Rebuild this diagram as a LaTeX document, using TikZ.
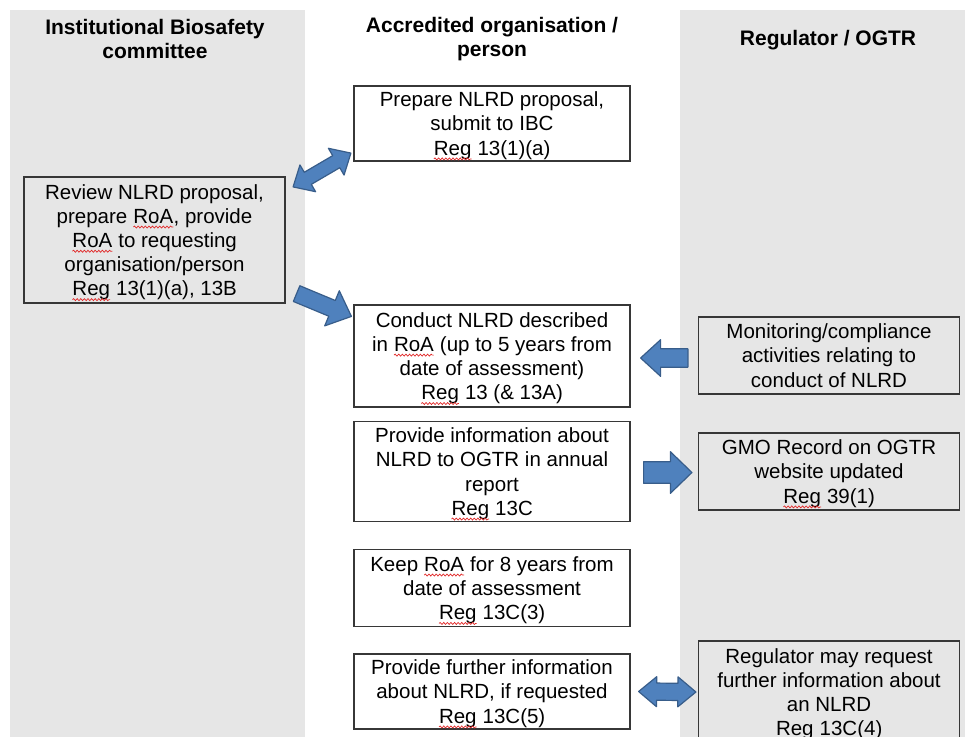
\documentclass[tikz,border=0pt]{standalone}
\usepackage{fontspec}
\setmainfont{Liberation Sans}
\usetikzlibrary{calc,decorations.pathmorphing}
\definecolor{colgray}{RGB}{230,230,230}
\definecolor{arrfill}{RGB}{79,129,189}
\definecolor{arrdraw}{RGB}{56,93,138}
\definecolor{boxline}{RGB}{55,55,55}
\definecolor{squig}{RGB}{225,40,40}

\newcommand\sqw[1]{\tikz[baseline=(sqw.base)]{\node[shape=rectangle,draw=none,fill=none,inner sep=0pt,outer sep=0pt,minimum width=0pt,minimum height=0pt,text height=,text depth=,anchor=base](sqw) at (0pt,0pt){#1};\draw[squig,line width=0.7pt,decorate,decoration={snake,amplitude=1pt,segment length=3.6pt}] ([yshift=-3.8pt]sqw.base west)--([yshift=-3.8pt]sqw.base east);}}

% #1 tail, #2 tip, #3 shaft half width, #4 head half width, #5 head length
\newcommand\fatarrow[5]{%
  \coordinate (hb) at ($(#2)!#5!(#1)$);
  \draw[blockarrow] ($(#1)!#3!90:(#2)$) -- ($(hb)!#3!90:(#2)$) -- ($(hb)!#4!90:(#2)$) -- (#2)
    -- ($(hb)!#4!-90:(#2)$) -- ($(hb)!#3!-90:(#2)$) -- ($(#1)!#3!-90:(#2)$) -- cycle;}
% #1 tip, #2 tip
\newcommand\dblarrow[5]{%
  \coordinate (hbA) at ($(#1)!#5!(#2)$);
  \coordinate (hbB) at ($(#2)!#5!(#1)$);
  \draw[blockarrow] (#1) -- ($(hbA)!#4!90:(#2)$) -- ($(hbA)!#3!90:(#2)$) -- ($(hbB)!#3!90:(#2)$)
    -- ($(hbB)!#4!90:(#2)$) -- (#2) -- ($(hbB)!#4!-90:(#2)$) -- ($(hbB)!#3!-90:(#2)$)
    -- ($(hbA)!#3!-90:(#2)$) -- ($(hbA)!#4!-90:(#2)$) -- cycle;}

\tikzset{
  colbg/.style={fill=colgray, draw=none},
  hdr/.style={font=\fontsize{21}{24}\selectfont\bfseries, align=center, inner sep=0pt},
  stepbox/.style={draw=boxline, line width=1.2pt, align=center, inner sep=0pt, text depth=0pt,
    font=\fontsize{20.5}{24.2}\selectfont},
  blockarrow/.style={fill=arrfill, draw=arrdraw, line width=1.2pt, line join=round}
}

\begin{document}
\begin{tikzpicture}[x=1pt,y=-1pt]
\useasboundingbox (0,0) rectangle (965,736);
\clip (0,0) rectangle (965,736);
\fill[white] (0,0) rectangle (965,736);
\path[colbg] (10,10) rectangle (305,745);
\path[colbg] (680,10) rectangle (970,745);

\node[hdr] (h1) at (155,39) {Institutional Biosafety\\committee};
\node[hdr] (h2) at (492,39.5) {Accredited organisation /\\person};
\node[hdr] (h3) at (828,40) {Regulator / OGTR};

\node[stepbox, minimum width=276pt, minimum height=75pt] (prep) at (492,123.5)
  {Prepare NLRD proposal,\\submit to IBC\\\sqw{Reg} 13(1)(a)};
\node[stepbox, minimum width=261pt, minimum height=126pt] (rev) at (154.5,240)
  {Review NLRD proposal,\\prepare \sqw{RoA}, provide\\\sqw{RoA} to requesting\\organisation/person\\\sqw{Reg} 13(1)(a), 13B};
\node[stepbox, minimum width=276pt, minimum height=102pt] (cond) at (492,356)
  {Conduct NLRD described\\in \sqw{RoA} (up to 5 years from\\date of assessment)\\\sqw{Reg} 13 (\& 13A)};
\node[stepbox, minimum width=276pt, minimum height=100pt] (info) at (492,471.5)
  {Provide information about\\NLRD to OGTR in annual\\report\\\sqw{Reg} 13C};
\node[stepbox, minimum width=276pt, minimum height=77pt] (keep) at (492,588)
  {Keep \sqw{RoA} for 8 years from\\date of assessment\\\sqw{Reg} 13C(3)};
\node[stepbox, minimum width=276pt, minimum height=75pt] (fur) at (492,691.5)
  {Provide further information\\about NLRD, if requested\\\sqw{Reg} 13C(5)};
\node[stepbox, minimum width=261pt, minimum height=77pt] (mon) at (829,355.5)
  {Monitoring/compliance\\activities relating to\\conduct of NLRD};
\node[stepbox, minimum width=261pt, minimum height=77pt] (gmo) at (829,471.5)
  {GMO Record on OGTR\\website updated\\\sqw{Reg} 39(1)};
\node[stepbox, minimum width=261pt, minimum height=102pt] (regq) at (829,692)
  {Regulator may request\\further information about\\an NLRD\\\sqw{Reg} 13C(4)};

% connector end points
\coordinate (a1s) at ($(rev.north east)+(7.5,10.5)$);
\coordinate (a1e) at ($(prep.south west)+(-2.5,-8.5)$);
\coordinate (a2s) at ($(rev.south east)+(11,-10)$);
\coordinate (a2e) at ($(cond.north west)+(-2,12)$);
\coordinate (a3s) at ($(mon.west)+(-10,2.5)$);
\coordinate (a3e) at ($(cond.east)+(10,2)$);
\coordinate (a4s) at ($(info.east)+(13,1)$);
\coordinate (a4e) at ($(gmo.west)+(-6,1)$);
\coordinate (a5s) at ($(fur.east)+(8,0)$);
\coordinate (a5e) at ($(regq.west)+(-2,0)$);

\dblarrow{a1s}{a1e}{7pt}{15.5pt}{17pt}
\fatarrow{a2s}{a2e}{8.5pt}{19pt}{21pt}
\fatarrow{a3s}{a3e}{9.2pt}{18.3pt}{20pt}
\fatarrow{a4s}{a4e}{10.8pt}{20.8pt}{21.5pt}
\dblarrow{a5s}{a5e}{8.6pt}{15pt}{18pt}
\end{tikzpicture}
\end{document}
